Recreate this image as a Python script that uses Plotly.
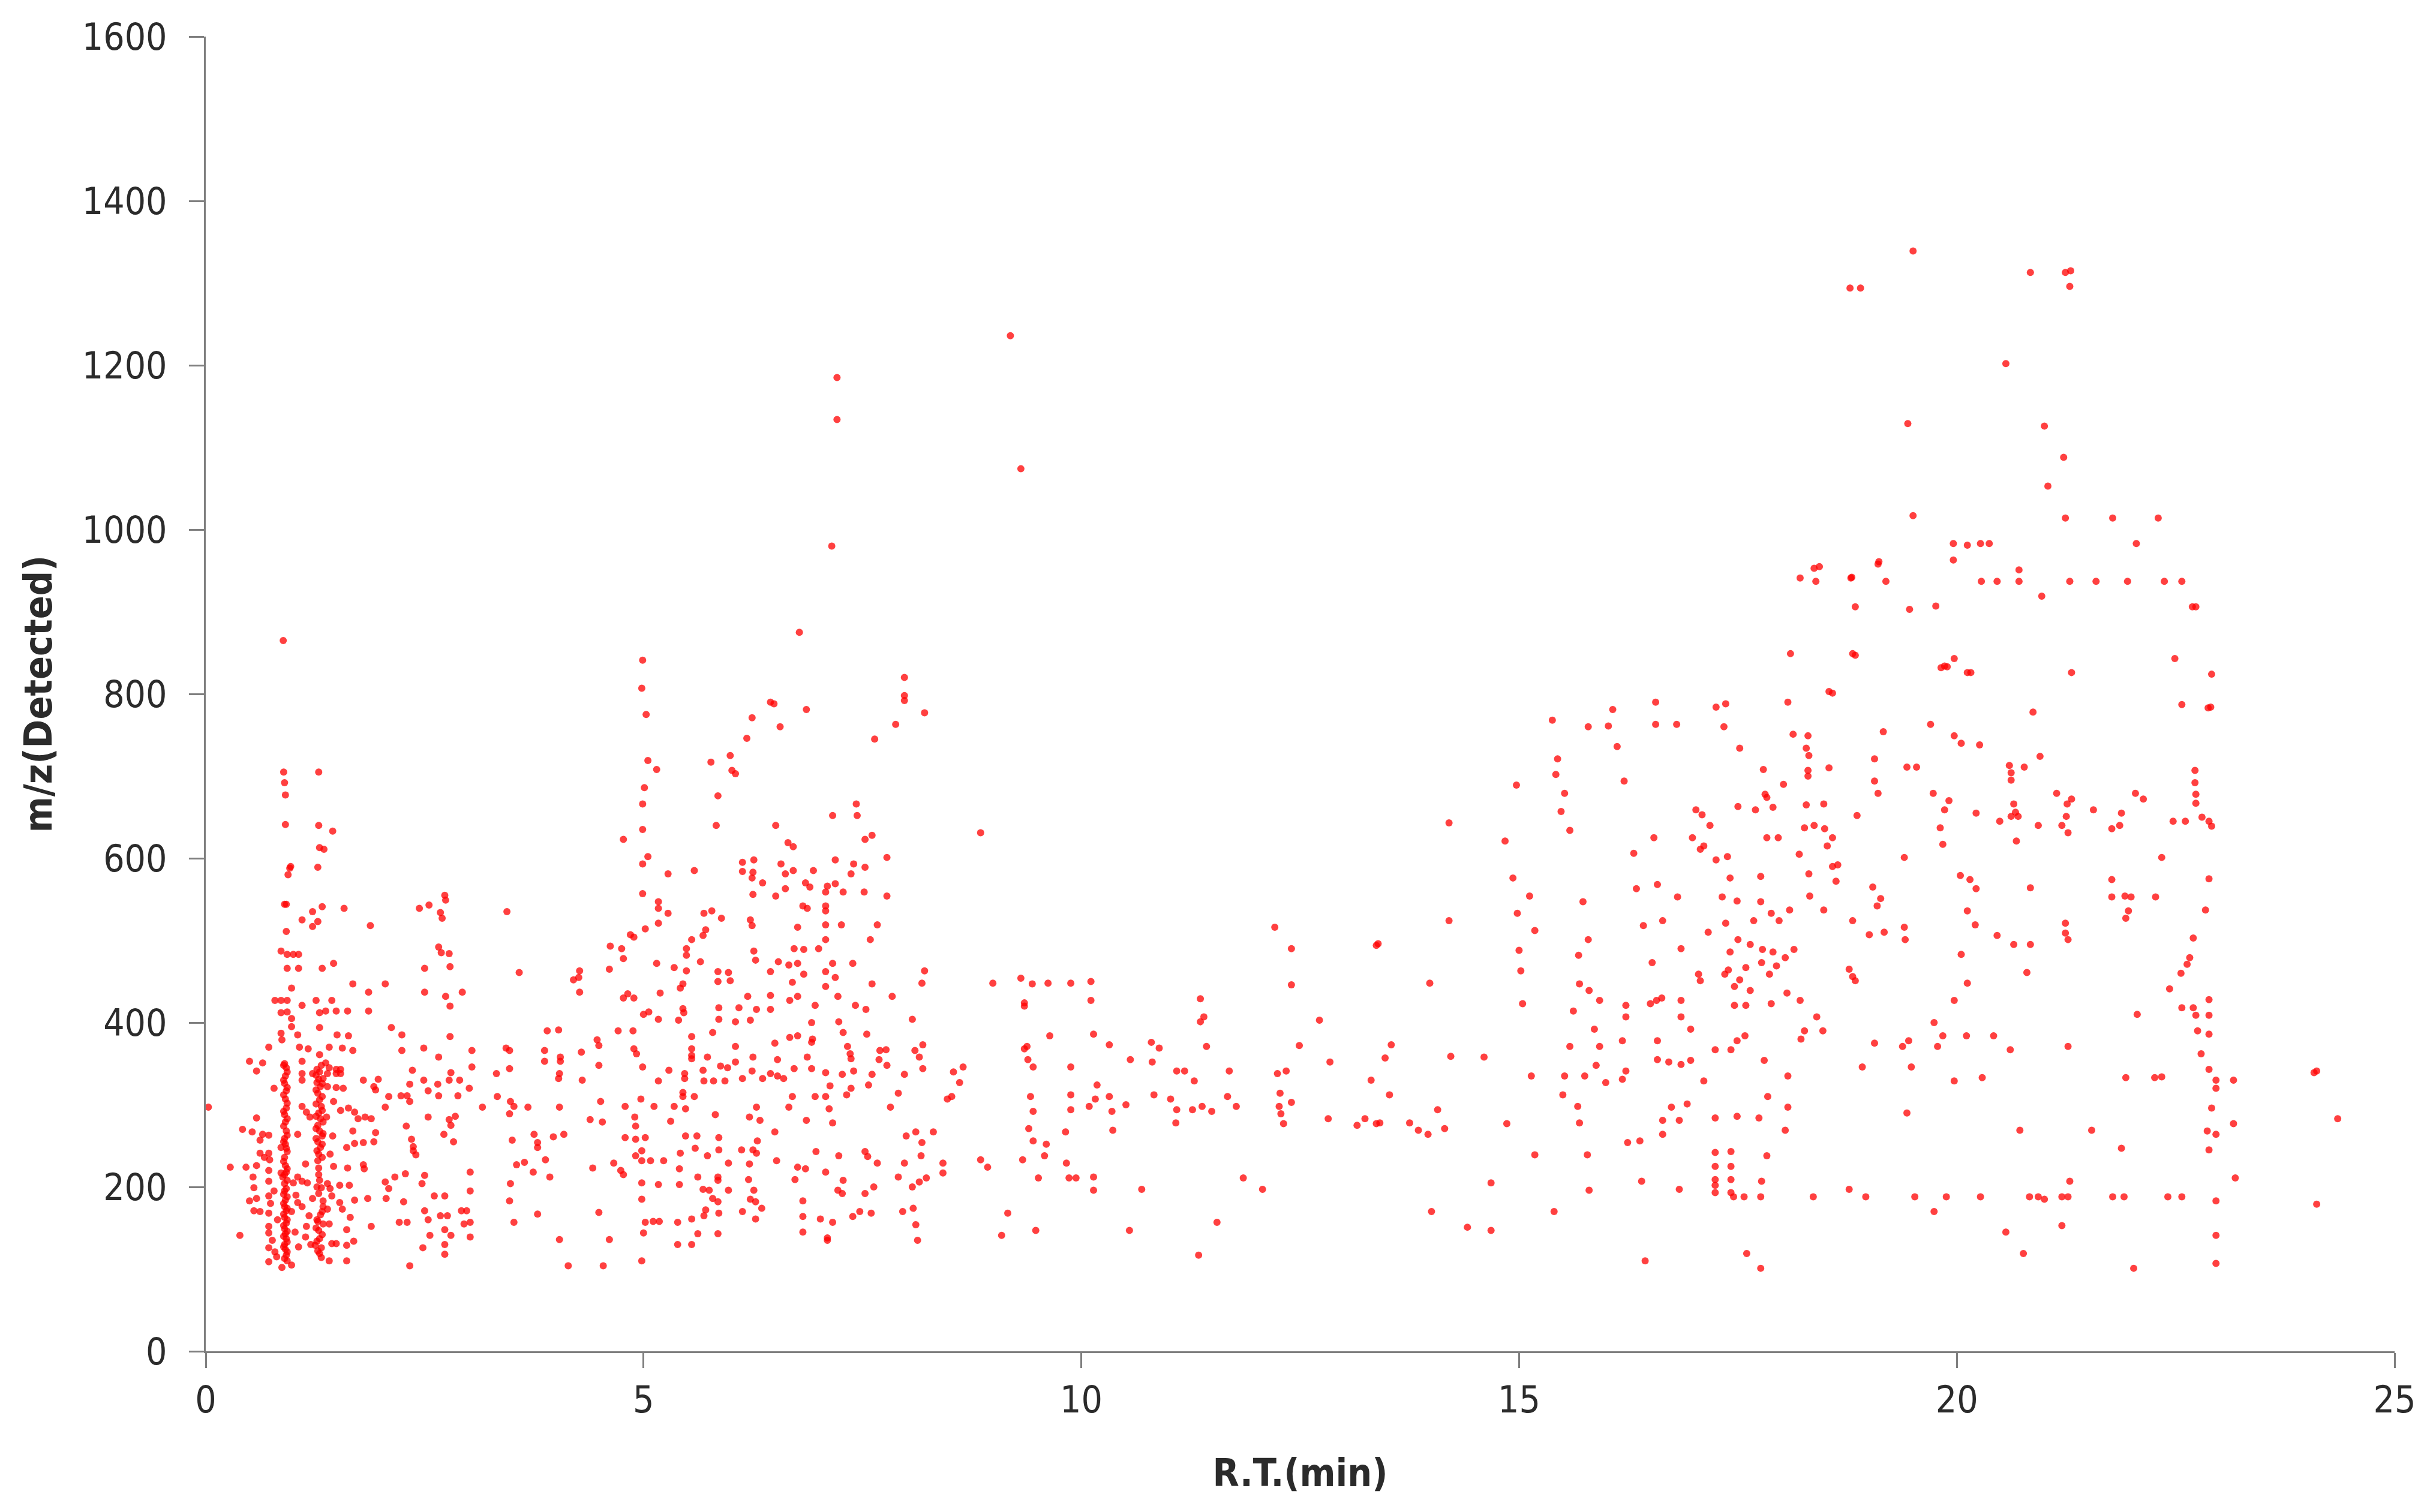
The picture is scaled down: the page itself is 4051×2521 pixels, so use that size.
import plotly.graph_objects as go

# (retention time in min, detected m/z), grouped by region
band_0_1 = [(0.885,865),(0.89,705),(0.90,692),(0.91,677),(0.91,641),(0.96,588),(1.29,705),(1.29,640),(1.35,611),(1.45,633),
(1.30,613),(1.28,589),(0.97,590),(0.94,580),(0.90,544),(0.92,544),(1.33,541),(1.22,535),(1.10,525),(1.58,539),(1.28,523),(1.22,517),(1.88,518),(0.92,511),
(0.86,487),(0.93,483),(1.0,483),(1.06,483),(1.46,472),(1.33,466),(1.06,466),(0.93,466),(1.68,447),(0.98,442),(1.86,437),(0.79,427),(0.86,427),(0.93,427),(1.26,427),(1.44,427),
(1.10,421),(0.86,412),(0.93,413),(1.30,412),(1.37,414),(1.49,414),(1.62,414),(1.86,414),(0.98,405),(0.98,395),(1.30,394),(0.86,387),(0.87,379),(1.05,385),(1.50,385),(1.63,384),
(0.72,370),(1.07,370),(1.17,368),(1.41,370),(1.56,369),(1.68,366),(1.30,361),(0.50,353),(0.65,351),(1.10,353),(0.58,341),
(1.22,338),(1.27,343),(1.32,348),(1.37,351),(1.41,345),(1.49,343),(1.54,343),(1.49,338),(1.54,338),(1.39,338),(1.34,332),(1.27,327),(1.39,322),(1.49,321),(1.57,320),(1.10,338),(1.10,330),(0.78,320),(1.80,330),(1.97,331),(1.92,322),(1.94,318),
(0.03,297),(1.10,298),(1.15,291),(1.19,285),(1.46,304),(1.54,293),(1.63,296),(1.70,291),(1.74,283),(1.82,285),(1.89,283),(0.58,284),(0.42,270),(0.53,267),(0.65,264),(0.72,263),(1.68,268),(1.94,266),
(1.05,264),(0.62,257),(1.92,255),(1.80,254),(1.70,253),(1.61,248),(0.86,248),(0.72,241),(0.62,241),(0.67,236),(0.73,233),
(0.28,224),(0.46,224),(0.58,226),(0.72,220),(0.86,217),(1.14,228),(1.29,223),(1.46,225),(1.62,223),(1.80,227),(1.81,222),
(0.54,212),(1.05,212),(1.10,207),(1.29,215),(1.39,204),(1.53,202),(1.64,202),(0.72,207),(0.55,199),
(0.50,183),(0.58,186),(0.72,189),(1.05,181),(1.10,176),(1.22,186),(1.34,183),(1.44,189),(1.53,181),(1.70,184),(1.85,186),
(0.55,171),(0.62,170),(0.72,168),(1.34,176),(1.39,173),(1.56,173),(1.65,163),(1.89,152),
(0.72,152),(0.72,144),(1.27,160),(1.34,155),(1.41,155),(1.29,147),(1.15,152),(1.61,148),(0.39,141),(1.14,139),
(1.69,134),(1.49,131),(1.44,131),(1.61,129),(0.72,126),(1.06,127),(1.25,129),(1.32,126),(0.79,121),(0.81,115),(1.30,119),
(0.72,109),(1.41,110),(1.61,110),(0.93,110),(0.87,102),(0.98,105),
(0.74,180),(0.78,195),(0.82,160),(0.76,135),(1.00,205),(1.03,190),(0.98,170),(1.02,145),(1.16,205),(1.18,165),(1.20,130),(1.42,240),(1.45,262),(1.38,285),(1.42,198)]

column_0_9 = [(0.90,350),(0.92,345),(0.91,335),(0.90,326),(0.92,317),(0.91,307),(0.92,296),(0.90,288),(0.91,279),(0.92,268),(0.90,259),(0.91,252),(0.93,243),(0.90,236),(0.91,226),(0.92,218),(0.88,212),(0.90,204),(0.92,198),(0.89,191),(0.91,184),(0.90,176),(0.92,171),(0.90,163),(0.92,156),(0.90,149),(0.91,143),(0.92,137),(0.90,130),(0.91,124),(0.92,117),(0.90,113),
(0.89,348),(0.93,340),(0.89,330),(0.93,321),(0.89,312),(0.93,302),(0.89,292),(0.93,283),(0.89,274),(0.93,263),(0.89,255),(0.92,247),(0.89,231),(0.93,222),(0.90,215),(0.93,208),(0.90,195),(0.93,188),(0.89,180),(0.93,174),(0.89,167),(0.93,160),(0.89,153),(0.93,146),(0.89,140),(0.93,133),(0.89,127),(0.93,121)]

column_1_3 = [(1.30,340),(1.29,331),(1.31,322),(1.28,314),(1.30,306),(1.32,298),(1.29,290),(1.31,283),(1.28,275),(1.30,268),(1.33,262),(1.28,255),(1.31,248),(1.29,240),(1.30,208),(1.32,199),(1.29,192),(1.31,166),(1.28,158),(1.30,137),(1.28,122),(1.32,114),
(1.26,336),(1.33,326),(1.26,318),(1.33,310),(1.26,301),(1.33,293),(1.26,286),(1.34,279),(1.26,271),(1.34,265),(1.26,259),(1.33,252),(1.27,244),(1.33,236),(1.28,232),(1.27,200),(1.33,170),(1.26,150),(1.33,142),(1.27,134)]

band_2_5 = [(2.44,539),(2.55,543),(2.73,555),(2.74,549),(2.68,534),(2.70,527),(3.44,535),(2.66,492),(2.69,485),(2.78,484),(2.5,466),(2.79,468),(3.58,461),(4.27,463),(4.26,455),(4.2,452),(2.05,447),
(2.5,437),(2.93,437),(4.27,437),(2.74,432),(2.79,420),(2.12,394),(2.24,385),(2.79,383),(2.24,366),(2.49,369),(3.04,366),(3.43,369),(3.47,366),(2.66,358),(3.04,346),(3.47,344),(2.36,342),(2.80,339),(3.32,338),
(2.33,325),(2.49,330),(2.65,325),(2.54,317),(2.78,330),(2.90,330),(3.01,320),(2.88,311),(2.66,311),(2.23,311),(2.30,311),(2.33,304),(2.09,310),(3.33,310),(3.16,297),(3.48,304),(3.52,298),(3.68,297),(3.47,289),(4.04,297),(4.03,332),(4.04,338),(4.05,358),(4.05,353),(3.87,366),(3.87,353),(3.90,390),(4.03,391),
(4.29,364),(4.30,330),(4.47,379),(4.49,372),(4.49,348),(4.51,304),(2.05,297),(2.29,274),(2.54,285),(2.78,282),(2.85,286),(2.72,264),(2.80,275),
(2.35,258),(2.37,249),(2.40,239),(2.37,244),(2.83,255),(3.50,257),(3.75,264),(3.79,254),(3.79,248),(3.97,261),(4.09,264),(4.39,282),(4.53,279),
(3.02,218),(3.55,227),(3.64,230),(3.88,233),(3.74,218),(3.93,212),(4.42,223),(2.28,216),(2.16,212),(2.50,214),(2.05,206),(2.47,204),(2.09,198),(3.48,204),(3.02,195),
(2.06,186),(2.26,182),(2.61,189),(2.73,189),(3.47,183),(2.50,171),(2.68,165),(2.76,165),(2.92,171),(2.98,171),(3.79,167),(4.49,169),
(2.54,160),(2.21,157),(2.30,157),(2.95,155),(3.02,157),(3.52,157),(2.73,148),(2.56,141),(2.80,141),(3.02,139),(4.04,136),(2.73,130),(2.48,126),(2.73,118),(2.33,104),(4.14,104),(4.54,104)]

band_5_8 = [(4.99,841),(4.98,807),(5.03,775),(7.98,820),(7.98,798),(7.98,792),(6.45,790),(6.49,788),(6.86,781),(8.21,777),(6.24,771),(6.56,760),(7.88,763),(6.18,746),(7.64,745),(5.99,725),(5.77,717),(5.05,719),(5.15,708),(6.01,707),(6.05,703),(5.01,686),(5.85,676),(4.99,666),(7.43,666),(7.16,652),(7.44,652),(5.83,640),(6.51,640),(4.99,635),(8.85,631),(4.77,623),(7.61,628),(7.53,623),(6.65,619),(6.71,614),(7.78,601),(5.05,602),(4.99,593),(6.13,595),(6.26,598),(6.57,593),(7.19,598),(7.40,593),(7.53,589),(6.13,584),(6.25,583),(5.28,581),(5.58,585),(6.62,581),(6.71,585),(6.94,585),(7.37,581),(6.24,576),(6.36,570),(6.85,570),(6.90,565),(6.62,563),(7.10,566),(7.19,569),(7.08,559),(7.28,559),(7.52,559),(6.25,556),(6.51,554),(7.78,554),(4.99,557),(5.17,547),(5.17,539),(6.82,542),(6.87,539),(7.08,542),(7.08,536),(5.28,533),(5.69,533),(5.78,536),(5.89,527),(5.17,521),(6.22,525),(6.24,518),(6.76,516),(7.08,519),(7.26,519),(7.67,519),(5.02,514),(5.71,513),(5.68,506),(4.89,504),(4.85,507),(5.55,501),(7.08,501),(7.59,501),(4.62,493),(4.75,490),(5.49,490),(5.49,482),(4.77,478),(6.26,487),(6.28,476),(6.72,490),(6.83,489),(7.0,490),(6.54,474),(5.65,474),(4.61,465),(5.15,472),(5.35,467),(5.49,463),(6.66,470),(6.76,472),(7.16,472),(7.39,472),(5.85,462),(5.97,461),(5.99,451),(5.85,450),(6.45,462),(6.83,459),(7.08,462),(7.19,455),(8.21,463),
(4.82,435),(4.77,430),(4.89,430),(5.19,436),(5.0,410),(5.06,413),(5.17,404),(4.71,390),(4.88,390),
(5.45,447),(5.42,442),(6.70,449),(7.08,444),(7.61,447),(8.18,448),(6.45,433),(6.19,432),(6.76,432),(6.67,427),(7.22,432),(7.84,432),(5.45,417),(5.46,412),(5.86,418),(6.09,418),(6.29,416),(6.45,416),(6.96,421),(7.42,421),(7.54,416),(5.86,404),(5.40,403),(6.05,401),(6.22,403),(7.23,401),(8.07,404),(6.92,400),
(5.55,383),(5.79,388),(6.76,384),(6.67,382),(6.93,380),(7.28,388),(7.55,386),(4.89,368),(4.92,362),(4.99,346),(5.55,368),(5.55,360),(5.55,356),(6.05,371),(5.73,358),(6.50,375),(6.25,358),(6.53,355),(6.92,376),(6.87,358),(7.33,371),(7.36,362),(7.37,356),(7.70,366),(7.77,367),(7.69,355),(8.10,366),(8.19,373),(8.15,358),
(6.05,352),(5.96,345),(5.88,347),(5.68,342),(5.29,342),(5.17,329),(5.47,338),(5.47,332),(5.69,329),(5.80,329),(5.93,329),(6.13,332),(6.24,341),(6.36,332),(6.45,338),(6.53,335),(6.60,332),(6.72,344),(6.92,344),(7.08,339),(7.27,337),(7.40,341),(7.61,337),(7.98,337),(7.78,348),(8.19,344),(8.54,340),(8.65,346),(8.61,327),
(7.13,323),(7.08,310),(4.97,307),(5.45,315),(5.45,310),(5.58,310),(6.70,310),(6.96,310),(7.37,320),(7.32,312),(7.57,324),(7.91,314),(8.47,307),(8.52,310),(5.12,298),(5.35,298),(5.48,295),(4.79,298),(6.29,297),(6.66,297),(7.12,295),(7.82,297),(4.90,285),(4.91,274),(5.31,280),(5.82,288),(6.21,285),(6.33,281),(6.86,281),(7.16,278),(8.31,267),(8.11,267),(8.0,262),(6.50,267),
(4.79,260),(4.91,258),(5.02,260),(5.48,262),(5.61,262),(5.86,260),(6.30,256),(8.18,254),(4.98,244),(4.91,238),(4.98,232),(5.08,232),(5.42,241),(5.59,247),(5.73,238),(5.86,245),(6.12,245),(6.25,245),(6.29,241),(6.97,243),(7.23,238),(7.53,243),(7.56,237),(8.17,238),
(4.66,229),(4.74,220),(4.77,215),(5.23,232),(5.41,222),(5.97,229),(6.21,228),(6.52,232),(6.76,224),(6.85,222),(7.67,229),(7.98,229),(8.42,229),(8.42,217),(8.85,233),(8.93,224),
(4.98,205),(5.17,203),(5.41,203),(5.62,212),(5.85,212),(5.85,208),(6.20,209),(6.73,209),(7.08,218),(7.28,208),(7.91,212),(8.23,211),(8.15,206),(8.07,200),(5.68,197),(5.75,196),(5.97,196),(6.26,196),(7.22,196),(7.27,192),(7.53,192),(7.63,200),
(4.98,185),(5.79,186),(5.85,182),(6.22,185),(6.28,182),(6.82,183),(6.35,174),(5.71,172),(5.69,165),(5.86,168),(6.13,170),(6.82,164),(7.02,161),(7.16,157),(7.39,164),(7.47,170),(7.60,168),(7.96,170),(8.08,174),(8.11,154),(6.28,161),(5.02,157),(5.11,158),(5.18,158),(5.39,157),(5.55,161),(5.0,144),(5.62,143),(5.85,143),(6.82,145),(7.10,138),(7.10,135),(8.13,135),(5.39,130),(5.55,130),(4.61,136),(4.98,110),
(7.21,1185),(7.21,1134),(7.15,980),(6.78,875),(9.19,1236),(9.31,1074)]

band_9_14 = [(8.99,448),(9.31,454),(9.44,447),(9.62,448),(9.88,448),(10.11,450),(11.36,429),(10.11,427),(9.35,424),(9.35,420),(11.40,407),(11.36,401),(9.64,384),(10.14,386),(12.72,403),
(10.32,373),(9.38,371),(9.35,368),(9.39,355),(9.45,346),(10.80,376),(10.89,369),(11.43,371),(10.81,352),(10.56,355),(12.49,372),(9.88,346),(11.09,341),(11.18,341),(11.69,341),(11.29,329),(12.24,338),(12.34,341),(10.18,324),
(9.42,310),(9.88,312),(10.32,310),(10.16,307),(10.83,312),(11.02,307),(11.67,310),(12.27,314),(10.09,298),(10.35,292),(9.45,292),(9.88,294),(10.51,300),(11.09,294),(11.27,294),(11.38,298),(11.49,292),(11.77,298),(12.26,298),(12.28,289),(12.31,277),(12.40,303),
(11.08,278),(10.36,269),(9.40,271),(9.82,267),(9.45,256),(9.60,252),(9.58,238),(9.33,233),(9.83,229),(9.51,211),(9.86,211),(9.94,211),(10.14,212),(11.85,211),(10.14,196),(10.69,197),(12.07,197),(9.16,168),(9.48,147),(9.09,141),(10.55,147),(11.55,157),(11.34,117),
(12.21,516),(12.40,490),(12.40,446),(13.37,494),(13.39,496),(12.84,352),(12.82,283),(13.15,275),(13.24,283),(13.37,277),(13.31,330)]

band_14_18 = [(14.20,643),(14.97,689),(15.38,768),(15.79,760),(16.02,761),(16.07,781),(16.56,790),(16.56,763),(16.80,763),(17.25,784),(17.36,788),(17.34,760),(17.52,734),(16.12,736),(15.44,721),(17.79,708),(15.42,702),(16.20,694),(15.52,679),(17.81,678),(17.83,674),
(17.50,663),(17.70,659),(17.90,662),(15.48,657),(17.02,659),(17.09,653),(17.18,640),(15.58,634),(16.98,625),(16.54,625),(17.83,625),(17.96,625),(14.84,621),(17.07,611),(17.11,615),(16.31,606),(17.38,602),(17.25,598),(14.93,576),(17.41,576),(17.76,578),(16.34,563),(16.58,568),(15.12,554),(16.81,553),(17.32,553),(15.73,547),(17.49,548),(17.76,547),(14.98,533),(17.88,533),(16.64,524),(14.20,524),(16.42,518),(17.36,521),(17.68,524),(17.97,524),(15.18,512),(17.16,510),(15.79,501),(17.50,501),(15.0,488),(16.85,490),(17.64,495),(17.78,489),(17.90,486),(17.41,486),(15.68,482),(17.77,473),(17.94,469),(16.52,473),(17.59,467),(15.02,463),(17.39,464),(17.35,459),(17.05,459),(17.07,451),(17.86,459),(17.52,452),(13.98,448),(15.69,447),(17.46,444),(15.80,439),(17.64,439),
(15.04,423),(15.92,427),(16.50,423),(16.57,427),(16.63,430),(16.85,427),(17.88,423),(17.46,421),(17.59,421),(16.22,421),(15.62,414),(16.22,407),(16.85,407),(15.86,392),(16.96,392),(17.58,384),(17.49,378),(13.54,373),(15.58,371),(15.92,371),(16.18,378),(16.58,378),(13.47,357),(14.22,359),(14.60,358),(17.24,367),(17.42,367),(16.58,355),(16.71,352),(16.85,349),(16.96,354),(17.80,354),(15.88,348),(16.22,341),(15.14,335),(15.52,335),(15.75,335),(16.18,331),(15.99,327),(17.11,329),
(13.52,312),(15.50,312),(17.84,310),(15.67,298),(16.74,297),(16.92,301),(14.07,294),(15.69,278),(16.64,281),(16.83,281),(17.24,284),(17.49,286),(17.74,284),(13.41,278),(13.75,278),(14.86,277),(13.85,269),(14.15,271),(13.96,264),(16.64,264),(16.24,254),(16.38,256),
(17.24,242),(17.42,243),(17.24,225),(17.42,225),(17.24,209),(17.42,209),(17.24,202),(17.24,193),(17.42,193),(15.18,239),(15.78,239),(17.83,238),(14.68,205),(16.40,207),(17.77,207),(15.80,196),(16.83,197),(17.45,188),(17.57,188),(17.76,188),(14.0,170),(15.40,170),(14.41,151),(14.68,147),(16.44,110),(17.60,119),(17.76,101)]

band_18_25 = [(18.10,849),(18.81,849),(18.54,803),(18.07,790),(18.13,751),(18.30,749),(19.16,754),(19.70,763),(19.97,749),(20.05,740),(20.26,738),(18.28,734),(18.31,725),(19.06,721),(20.95,724),(18.30,707),(18.30,700),(18.54,710),(19.43,711),(19.54,711),(20.60,713),(20.77,711),(20.62,704),(20.62,695),(19.06,694),(18.02,690),(19.10,679),(19.73,679),(21.14,679),(21.31,672),(21.26,666),(22.04,679),(22.13,672),(19.91,670),(19.86,659),(20.22,655),(20.65,666),(20.67,656),(20.70,651),(20.62,651),(18.28,665),(18.48,666),(18.86,652),(21.25,651),(21.56,659),(21.88,655),(18.37,640),(18.26,637),(18.49,636),(19.81,637),(20.49,645),(20.93,640),(21.20,640),(21.27,631),(21.86,640),(21.77,636),(18.58,625),(20.68,621),(18.52,615),(19.84,617),(18.20,605),(19.40,601),(18.64,592),(18.58,590),(18.31,581),(20.04,579),(20.15,574),(21.77,574),(18.62,572),(19.04,565),(20.22,563),(20.84,564),(18.32,554),(19.13,551),(21.77,553),(21.92,554),(21.99,553),(22.27,553),(19.09,542),(20.12,536),(21.96,536),(18.48,537),(18.09,537),(21.93,527),(18.81,524),(20.21,519),(21.24,521),(19.0,507),(19.17,510),(19.40,516),(19.41,501),(20.46,506),(21.24,509),(21.27,501),(18.14,489),(20.65,495),(20.84,495),(18.04,479),(20.05,483),(18.77,465),(18.81,456),(18.84,451),(20.80,461),(20.12,448),(18.06,436),(18.21,427),(19.97,427),(18.40,407),(22.06,410),(19.74,400),(18.26,390),(18.47,390),(19.84,384),(20.11,384),(20.42,384),(18.22,380),(19.06,375),(19.38,371),(19.45,378),(19.78,371),(21.27,371),(20.61,367),(18.92,346),(19.48,346),(18.07,335),(19.97,329),(20.29,333),(21.93,333),(22.26,333),(18.07,297),(19.43,290),(18.04,269),(20.72,269),(21.54,269),(21.88,247),
(18.36,188),(18.77,197),(18.96,188),(19.52,188),(19.88,188),(20.27,188),(20.83,188),(20.93,188),(21.0,185),(21.20,188),(21.27,188),(21.78,188),(21.91,188),(21.29,207),(19.74,170),(20.56,145),(21.20,153),(20.76,119),(22.02,101),
(19.50,1339),(18.78,1294),(18.90,1294),(20.84,1313),(21.24,1313),(21.30,1315),(21.29,1296),(20.56,1202),(19.44,1129),(21.0,1126),(21.22,1088),(21.04,1053),(19.50,1017),(21.24,1014),(21.78,1014),(22.30,1014),(19.96,983),(20.12,981),(20.27,983),(20.37,983),(22.05,983),(18.37,953),(18.43,955),(19.11,961),(19.10,958),(19.96,963),(20.71,951),(18.21,941),(18.39,937),(18.79,941),(18.80,942),(19.19,937),(20.28,937),(20.46,937),(20.71,937),(21.29,937),(21.59,937),(21.95,937),(22.37,937),(22.57,937),(20.97,919),(18.84,906),(19.46,903),(19.76,907),(22.69,906),(22.73,906),(18.84,847),(19.97,843),(19.82,832),(19.89,833),(19.86,834),(20.12,826),(20.16,826),(21.31,826),(22.49,843),(22.91,824),(18.58,801),(20.87,778),(22.57,787),(22.87,783),(22.90,784),
(22.47,645),(22.61,645),(22.72,692),(22.73,678),(22.73,667),(22.72,707),(22.80,650),(22.88,645),(22.91,639),(22.88,575),(22.84,537),(22.70,503),(22.66,479),(22.63,471),(22.56,460),(22.43,441),(22.57,418),(22.70,418),(22.88,428),(22.88,409),(22.73,409),(22.75,390),(22.88,386),(22.79,362),(22.88,343),(22.96,330),(23.16,330),(22.91,296),(22.86,268),(22.96,264),(23.16,277),(22.96,320),(22.88,245),(23.18,211),(22.96,183),(22.96,141),(22.96,107),(22.41,188),(22.57,188),(22.34,334),(22.34,601),(24.08,339),(24.11,341),(24.35,283),(24.11,179)]

x_ticks = [0, 5, 10, 15, 20, 25]
y_ticks = [0, 200, 400, 600, 800, 1000, 1200, 1400, 1600]
x_title = "R.T.(min)"
y_title = "m/z(Detected)"

points = band_0_1 + column_0_9 + column_1_3 + band_2_5 + band_5_8 + band_9_14 + band_14_18 + band_18_25
rt = [p[0] for p in points]
mz = [p[1] for p in points]

AXIS = "#7f7f7f"
TEXT = "#2b2b2b"
FONT = "DejaVu Sans Condensed, DejaVu Sans, sans-serif"
BOLD = "DejaVu Sans Condensed, DejaVu Sans, sans-serif"

fig = go.Figure(go.Scatter(
    x=rt, y=mz, mode="markers", cliponaxis=False,
    marker=dict(color="rgba(255,0,0,0.75)", size=12, line=dict(width=0)),
    showlegend=False,
))
axis_common = dict(
    showgrid=False, zeroline=False, showline=True, linecolor=AXIS, linewidth=3,
    ticks="outside", ticklen=25, tickwidth=3, tickcolor=AXIS,
    tickfont=dict(family=FONT, size=62, color=TEXT),
)
fig.update_xaxes(range=[0, 25], tickmode="array", tickvals=x_ticks, ticktext=[str(v) for v in x_ticks],
                 ticklabelstandoff=0,
                 title=dict(text=f"<b>{x_title}</b>", font=dict(family=BOLD, size=64, color=TEXT), standoff=64),
                 **axis_common)
fig.update_yaxes(range=[0, 1600], tickmode="array", tickvals=y_ticks, ticktext=[str(v) for v in y_ticks],
                 ticklabelstandoff=24,
                 title=dict(text=f"<b>{y_title}</b>", font=dict(family=BOLD, size=64, color=TEXT), standoff=30),
                 **axis_common)
fig.update_layout(width=4035, height=2505, paper_bgcolor="white", plot_bgcolor="white",
                  margin=dict(l=335, r=51, t=53, b=260, autoexpand=False))
fig.write_html("out.html", config={"displayModeBar": False})
